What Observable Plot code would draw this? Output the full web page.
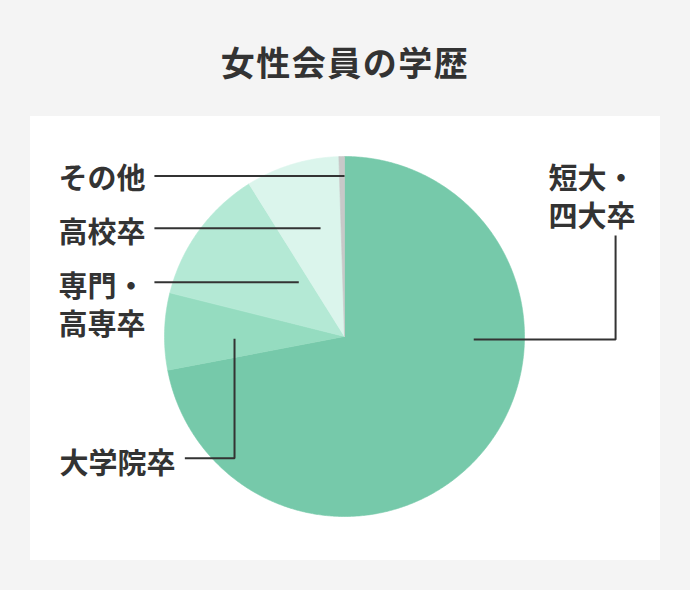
<!DOCTYPE html>
<html>
<head>
<meta charset="utf-8">
<script src="https://cdn.jsdelivr.net/npm/d3@7"></script>
<script src="https://cdn.jsdelivr.net/npm/@observablehq/plot@0.6"></script>
<style>
  html, body { margin: 0; padding: 0; background: #f4f4f4; }
  body { width: 690px; height: 590px; position: relative; overflow: hidden;
         font-family: "Noto Sans CJK JP", "Noto Sans", sans-serif; }
  #title { position: absolute; left: 0; top: 40px; width: 690px; height: 44px; line-height: 44px;
           text-align: center; font-size: 34px; font-weight: 700; color: #333; letter-spacing: 1.5px; }
  #panel { position: absolute; left: 30px; top: 116px; width: 630px; height: 444px; background: #fff; }
  #panel svg { display: block; }
</style>
</head>
<body>
<div id="title">女性会員の学歴</div>
<div id="panel"></div>
<script>
// ---- data ----
const categories = ["短大・四大卒", "大学院卒", "専門・高専卒", "高校卒", "その他"];
const shares = [72, 6.9, 12.2, 8.4, 0.5];
const labelTexts = ["短大・\n四大卒", "大学院卒", "専門・\n高専卒", "高校卒", "その他"];

// ---- styles & layout (in pie-radius units) ----
const colors = ["#76c9aa", "#95dcc0", "#b4e9d5", "#dbf5ec", "#c8c8c8"];
const labelLayout = [
  {x: 1.133, y: 0.794, anchor: "start", leader: [[1.506, 0.561], [1.506, -0.017], [0.718, -0.017]]},
  {x: -0.939, y: -0.683, anchor: "end", leader: [[-0.887, -0.676], [-0.611, -0.676], [-0.611, -0.013]]},
  {x: -1.106, y: 0.193, anchor: "end", leader: [[-1.056, 0.302], [-0.254, 0.302]]},
  {x: -1.106, y: 0.600, anchor: "end", leader: [[-1.056, 0.602], [-0.133, 0.602]]},
  {x: -1.106, y: 0.897, anchor: "end", leader: [[-1.056, 0.891], [0, 0.891]]}
];

// ---- slices as polygons from d3.pie angles ----
const table = categories.map((c, i) => ({category: c, share: shares[i], label: labelTexts[i]}));
const arcs = d3.pie().sort(null).value(d => d.share)(table);
const slicePts = [];
arcs.forEach(a => {
  const name = a.data.category;
  slicePts.push({category: name, x: 0, y: 0});
  const n = Math.max(2, Math.ceil((a.endAngle - a.startAngle) / (Math.PI / 360)));
  for (let k = 0; k <= n; k++) {
    const t = a.startAngle + (a.endAngle - a.startAngle) * k / n;
    slicePts.push({category: name, x: Math.sin(t), y: Math.cos(t)});
  }
  slicePts.push({category: name, x: 0, y: 0});
});

const leaderPts = [];
table.forEach((d, i) => labelLayout[i].leader.forEach(([x, y]) => leaderPts.push({category: d.category, x, y})));
const labelRows = table.map((d, i) => ({...d, ...labelLayout[i]}));

const R = 180, cx = 314, cy = 220;
const chart = Plot.plot({
  width: 630,
  height: 444,
  margin: 0,
  style: {background: "transparent", fontFamily: "'Noto Sans CJK JP', sans-serif"},
  x: {domain: [-1, 1], range: [cx - R, cx + R], axis: null},
  y: {domain: [-1, 1], range: [cy + R, cy - R], axis: null},
  color: {domain: categories, range: colors},
  marks: [
    Plot.line(slicePts, {x: "x", y: "y", z: "category", fill: "category", stroke: "category", strokeWidth: 0.6, curve: "linear"}),
    Plot.line(leaderPts, {x: "x", y: "y", z: "category", stroke: "#333", strokeWidth: 2, strokeLinejoin: "miter", strokeLinecap: "butt"}),
    Plot.text(labelRows.filter(d => d.anchor === "end"), {x: "x", y: "y", text: "label", textAnchor: "end", fontSize: 29, fontWeight: 700, fill: "#333", lineHeight: 1.31, dy: 2}),
    Plot.text(labelRows.filter(d => d.anchor === "start"), {x: "x", y: "y", text: "label", textAnchor: "start", fontSize: 29, fontWeight: 700, fill: "#333", lineHeight: 1.31, dy: 2})
  ]
});
document.getElementById("panel").appendChild(chart);
</script>
</body>
</html>
